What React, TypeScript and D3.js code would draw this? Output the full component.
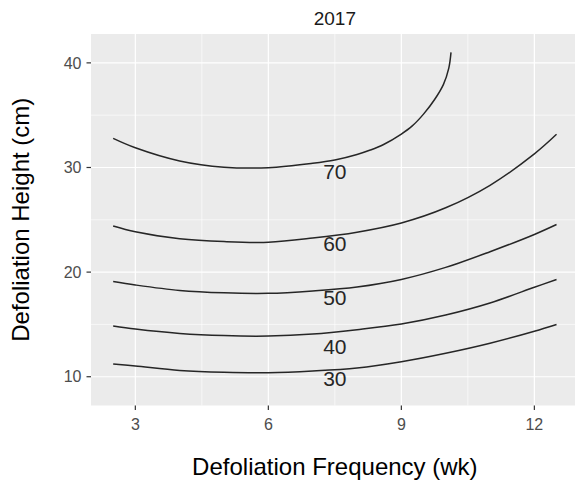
import React, { useEffect, useRef } from "react";
import * as d3 from "d3";

const WIDTH = 575;
const HEIGHT = 485;
const PANEL = { left: 91, right: 578.7, top: 34, bottom: 405.5 };

// contour levels (x = frequency wk, y = height cm)
const levels = [30, 40, 50, 60, 70];
const freqX = [2.5, 3, 4, 5, 6, 7, 8, 9, 10, 11, 12, 12.5];
const height30 = [11.21, 11.02, 10.6, 10.42, 10.38, 10.54, 10.83, 11.43, 12.24, 13.2, 14.35, 15.0];
const height40 = [14.85, 14.56, 14.14, 13.93, 13.89, 14.08, 14.5, 15.04, 15.9, 17.05, 18.55, 19.3];
const height50 = [19.1, 18.77, 18.25, 18.02, 17.97, 18.2, 18.58, 19.3, 20.45, 21.95, 23.6, 24.55];
const height60 = [24.41, 23.86, 23.2, 22.92, 22.85, 23.25, 23.82, 24.7, 26.15, 28.3, 31.3, 33.17];
const freq70 = [2.5, 3, 4, 5, 6, 7, 7.5, 8, 8.3, 8.6, 9, 9.24, 9.5, 9.75, 9.95, 10.07, 10.12];
const height70 = [32.79, 31.89, 30.63, 30.03, 29.98, 30.4, 30.72, 31.25, 31.67, 32.2, 33.2, 33.95, 35.1, 36.5, 37.95, 39.5, 41.0];

const labelFreq = 7.5;
const labelHeight = [9.85, 12.87, 17.55, 22.75, 29.67];

const xMajor = [3, 6, 9, 12];
const xMinor = [4.5, 7.5, 10.5];
const yMajor = [10, 20, 30, 40];
const yMinor = [15, 25, 35];

const FONT = "'Liberation Sans', Arial, Helvetica, sans-serif";

const App = () => {
  const ref = useRef(null);

  useEffect(() => {
    const svg = d3.select(ref.current);
    svg.selectAll("*").remove();

    const x = d3.scaleLinear().domain([2, 13]).range([PANEL.left, PANEL.right]);
    const y = d3.scaleLinear().domain([7.25, 42.76]).range([PANEL.bottom, PANEL.top]);

    // panel background
    svg
      .append("rect")
      .attr("x", PANEL.left)
      .attr("y", PANEL.top)
      .attr("width", PANEL.right - PANEL.left)
      .attr("height", PANEL.bottom - PANEL.top)
      .attr("fill", "#ebebeb");

    const grid = svg.append("g");
    const drawV = (vals, w) =>
      grid
        .selectAll(null)
        .data(vals)
        .enter()
        .append("line")
        .attr("x1", (d) => x(d))
        .attr("x2", (d) => x(d))
        .attr("y1", PANEL.top)
        .attr("y2", PANEL.bottom)
        .attr("stroke", "#fff")
        .attr("stroke-width", w);
    const drawH = (vals, w) =>
      grid
        .selectAll(null)
        .data(vals)
        .enter()
        .append("line")
        .attr("x1", PANEL.left)
        .attr("x2", PANEL.right)
        .attr("y1", (d) => y(d))
        .attr("y2", (d) => y(d))
        .attr("stroke", "#fff")
        .attr("stroke-width", w);
    drawV(xMinor, 0.6);
    drawH(yMinor, 0.6);
    drawV(xMajor, 1.2);
    drawH(yMajor, 1.2);

    // contour lines
    const series = [
      freqX.map((f, i) => [f, height30[i]]),
      freqX.map((f, i) => [f, height40[i]]),
      freqX.map((f, i) => [f, height50[i]]),
      freqX.map((f, i) => [f, height60[i]]),
      freq70.map((f, i) => [f, height70[i]]),
    ];
    const line = d3
      .line()
      .x((d) => x(d[0]))
      .y((d) => y(d[1]))
      .curve(d3.curveCatmullRom.alpha(0.5));

    svg
      .append("g")
      .selectAll("path")
      .data(series)
      .enter()
      .append("path")
      .attr("d", line)
      .attr("fill", "none")
      .attr("stroke", "#262626")
      .attr("stroke-width", 1.5);

    svg
      .append("g")
      .selectAll("text")
      .data(levels)
      .enter()
      .append("text")
      .attr("x", x(labelFreq))
      .attr("y", (d, i) => y(labelHeight[i]))
      .attr("dy", "0.36em")
      .attr("text-anchor", "middle")
      .style("font-family", FONT)
      .style("font-size", "21px")
      .attr("fill", "#262626")
      .text((d) => d);

    // axes ticks + labels
    const axes = svg.append("g").style("font-family", FONT);
    axes
      .selectAll("line.xt")
      .data(xMajor)
      .enter()
      .append("line")
      .attr("class", "xt")
      .attr("x1", (d) => x(d))
      .attr("x2", (d) => x(d))
      .attr("y1", PANEL.bottom)
      .attr("y2", PANEL.bottom + 4.5)
      .attr("stroke", "#333")
      .attr("stroke-width", 1.2);
    axes
      .selectAll("text.xt")
      .data(xMajor)
      .enter()
      .append("text")
      .attr("class", "xt")
      .attr("x", (d) => x(d))
      .attr("y", 430)
      .attr("text-anchor", "middle")
      .style("font-size", "16px")
      .attr("fill", "#4d4d4d")
      .text((d) => d);
    axes
      .selectAll("line.yt")
      .data(yMajor)
      .enter()
      .append("line")
      .attr("class", "yt")
      .attr("x1", PANEL.left - 4.5)
      .attr("x2", PANEL.left)
      .attr("y1", (d) => y(d))
      .attr("y2", (d) => y(d))
      .attr("stroke", "#333")
      .attr("stroke-width", 1.2);
    axes
      .selectAll("text.yt")
      .data(yMajor)
      .enter()
      .append("text")
      .attr("class", "yt")
      .attr("x", 81.5)
      .attr("y", (d) => y(d))
      .attr("dy", "0.36em")
      .attr("text-anchor", "end")
      .style("font-size", "16px")
      .attr("fill", "#4d4d4d")
      .text((d) => d);

    const cx = (PANEL.left + PANEL.right) / 2;
    const cy = (PANEL.top + PANEL.bottom) / 2;
    svg
      .append("text")
      .attr("x", cx)
      .attr("y", 25)
      .attr("text-anchor", "middle")
      .style("font-family", FONT)
      .style("font-size", "19px")
      .attr("fill", "#1a1a1a")
      .text("2017");
    svg
      .append("text")
      .attr("x", cx)
      .attr("y", 475)
      .attr("text-anchor", "middle")
      .style("font-family", FONT)
      .style("font-size", "24px")
      .attr("fill", "#000")
      .text("Defoliation Frequency (wk)");
    svg
      .append("text")
      .attr("transform", `translate(29 ${cy}) rotate(-90)`)
      .attr("text-anchor", "middle")
      .style("font-family", FONT)
      .style("font-size", "24px")
      .attr("fill", "#000")
      .text("Defoliation Height (cm)");
  }, []);

  return (
    <svg
      ref={ref}
      width={WIDTH}
      height={HEIGHT}
      style={{ position: "absolute", left: 0, top: 0, background: "#fff" }}
    />
  );
};

export default App;
